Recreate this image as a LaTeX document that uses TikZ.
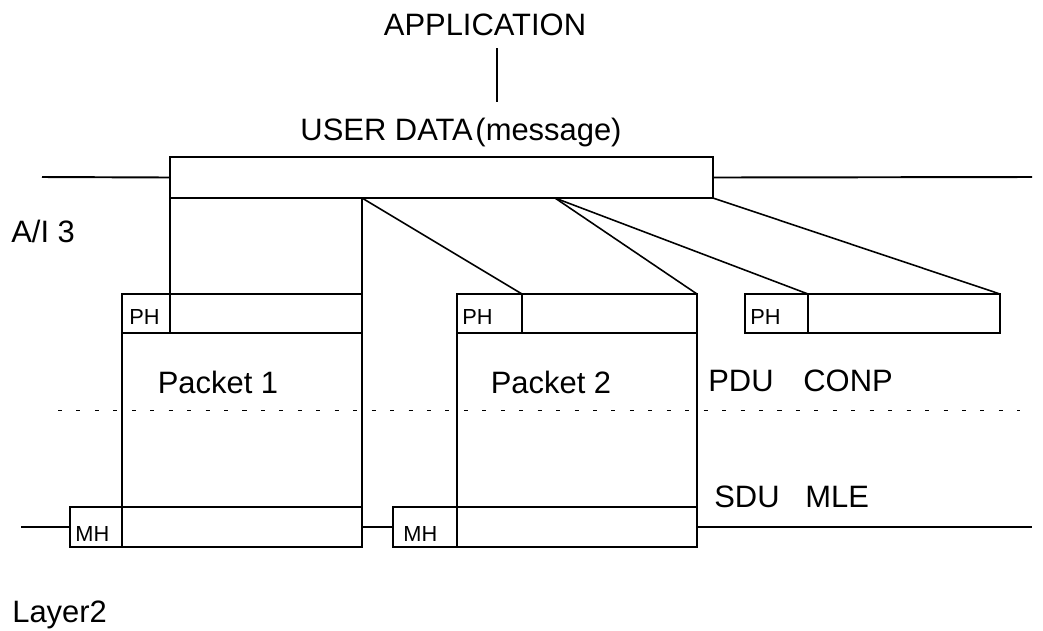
\documentclass[tikz,border=0pt]{standalone}
\usepackage{fontspec}
\setmainfont{Liberation Sans}
\tikzset{
  cell/.style={draw, line width=1.1pt, inner sep=0pt, outer sep=0pt, anchor=north west},
  wire/.style={line width=1.1pt},
  slant/.style={line width=0.9pt},
  dots/.style={line width=0.5pt, dash pattern=on 2.3pt off 8.2pt},
  big/.style={font=\fontsize{17.6}{21}\selectfont, inner sep=0pt, anchor=base},
  tag/.style={font=\fontsize{12.4}{15}\selectfont, inner sep=0pt, anchor=base west},
}
% box with its top left corner at (x,y), sizes in pixels
\newcommand\cellbox[5]{\node[cell, minimum width=#4*0.02cm, minimum height=#5*0.02cm] (#1) at (#2,#3) {};}
\begin{document}
\begin{tikzpicture}[x=0.02cm,y=-0.02cm]
\useasboundingbox (0,0) rectangle (1043,630);
% user data and the layer 3 line
\cellbox{user}{170}{157}{543}{41}
\coordinate (wireL) at (42,177);
\coordinate (wireR) at (1032,177);
\draw[wire] (wireL) -- (user.west);
\draw[wire] (user.east) -- (wireR);
% packets
\cellbox{ph1}{122}{294}{48}{39}
\cellbox{pd1}{170}{294}{192}{39}
\cellbox{body1}{122}{333}{240}{174}
\cellbox{mh1}{70}{507}{52}{40}
\cellbox{md1}{122}{507}{240}{40}
\cellbox{ph2}{457}{294}{65}{39}
\cellbox{pd2}{522}{294}{175}{39}
\cellbox{body2}{457}{333}{240}{174}
\cellbox{mh2}{393}{507}{64}{40}
\cellbox{md2}{457}{507}{240}{40}
\cellbox{ph3}{745}{294}{63}{39}
\cellbox{pd3}{808}{294}{192}{39}
% splitting the message
\coordinate (cutA) at (362,198);
\coordinate (cutB) at (555,198);
\draw[wire] (user.south west) -- (pd1.north west);
\draw[wire] (cutA) -- (pd1.north east);
\draw[slant] (cutA) -- (pd2.north west);
\draw[slant] (cutB) -- (pd2.north east);
\draw[slant] (cutB) -- (pd3.north west);
\draw[slant] (user.south east) -- (pd3.north east);
% layer 2 line
\coordinate (linkL) at (21,527);
\coordinate (linkR) at (1032,527);
\draw[wire] (linkL) -- (mh1.west);
\draw[wire] (md1.east) -- (mh2.west);
\draw[wire] (md2.east) -- (linkR);
% boundary
\coordinate (dashL) at (58,410);
\coordinate (dashR) at (1020,410);
\draw[dots] (dashL) -- (dashR);
% texts
\node[big] (app) at (485,35) {APPLICATION};
\node[big] (msg) at (461,140) {USER DATA\hspace{1.5pt}(message)};
\coordinate (appfoot) at (497,48);
\coordinate (msgtop) at (497,102);
\draw[wire] (appfoot) -- (msgtop);
\node[big, anchor=base west] (ai3) at (11,242) {A/I 3};
\node[big] (pk1) at (218,393) {Packet 1};
\node[big] (pk2) at (551,393) {Packet 2};
\node[big, anchor=base west] (pdu) at (708,391) {PDU};
\node[big, anchor=base west] (conp) at (803,391) {CONP};
\node[big, anchor=base west] (sdu) at (714,507) {SDU};
\node[big, anchor=base west] (mle) at (805,507) {MLE};
\node[big, anchor=base west] (layer) at (12,622) {Layer2};
\node[tag] (ph1t) at (129,324) {PH};
\node[tag] (ph2t) at (462,324) {PH};
\node[tag] (ph3t) at (750,324) {PH};
\node[tag] (mh1t) at (75,541) {MH};
\node[tag] (mh2t) at (403,541) {MH};
\end{tikzpicture}
\end{document}
